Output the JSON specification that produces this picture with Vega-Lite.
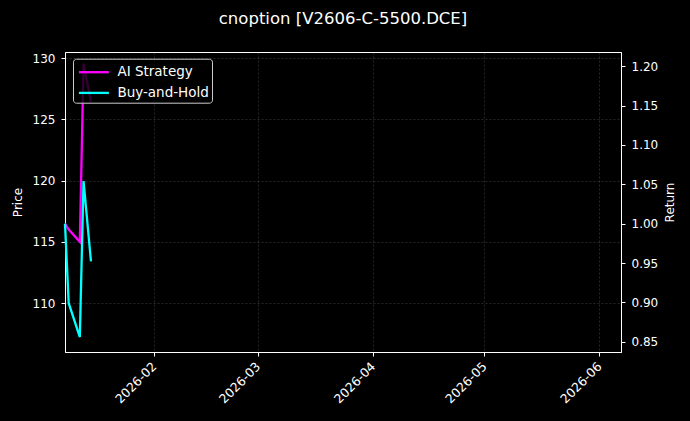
{
  "$schema": "https://vega.github.io/schema/vega-lite/v6.json",
  "width": 556,
  "height": 300,
  "autosize": "none",
  "padding": {"left": 65, "top": 52, "right": 69, "bottom": 69},
  "background": "black",
  "title": {
    "text": "cnoption [V2606-C-5500.DCE]",
    "fontSize": 16.5,
    "fontWeight": "normal",
    "color": "white",
    "baseline": "bottom",
    "offset": 8
  },
  "datasets": {
    "returns": [
      {"date": "2026-01-08", "series": "AI Strategy", "value": 1.0},
      {"date": "2026-01-09", "series": "AI Strategy", "value": 0.9925},
      {"date": "2026-01-12", "series": "AI Strategy", "value": 0.977},
      {"date": "2026-01-13", "series": "AI Strategy", "value": 1.203},
      {"date": "2026-01-15", "series": "AI Strategy", "value": 1.155},
      {"date": "2026-01-08", "series": "Buy-and-Hold", "value": 1.0},
      {"date": "2026-01-09", "series": "Buy-and-Hold", "value": 0.899},
      {"date": "2026-01-12", "series": "Buy-and-Hold", "value": 0.856},
      {"date": "2026-01-13", "series": "Buy-and-Hold", "value": 1.054},
      {"date": "2026-01-15", "series": "Buy-and-Hold", "value": 0.952}
    ],
    "price_limits": [
      {"date": "2026-01-08", "price": 106.0},
      {"date": "2026-01-08", "price": 130.5}
    ]
  },
  "layer": [
    {
      "data": {"name": "price_limits"},
      "mark": {"type": "point", "opacity": 0, "size": 1},
      "encoding": {
        "x": {
          "field": "date",
          "type": "temporal",
          "scale": {
            "type": "utc",
            "domain": [
              {"year": 2026, "month": 1, "date": 8, "utc": true},
              {"year": 2026, "month": 6, "date": 6, "hours": 21, "utc": true}
            ]
          },
          "axis": {
            "title": null,
            "grid": true,
            "format": "%Y-%m",
            "values": [
              {"year": 2026, "month": 2, "date": 1, "utc": true},
              {"year": 2026, "month": 3, "date": 1, "utc": true},
              {"year": 2026, "month": 4, "date": 1, "utc": true},
              {"year": 2026, "month": 5, "date": 1, "utc": true},
              {"year": 2026, "month": 6, "date": 1, "utc": true}
            ],
            "labelAngle": -45,
            "labelAlign": "right",
            "labelBaseline": "middle",
            "labelFontSize": 12.5,
            "labelPadding": 8,
            "labelDx": -24
          }
        },
        "y": {
          "field": "price",
          "type": "quantitative",
          "scale": {"domain": [106.0, 130.5], "nice": false, "zero": false},
          "axis": {"title": "Price", "orient": "left", "values": [110, 115, 120, 125, 130], "titlePadding": 8}
        }
      }
    },
    {
      "data": {"name": "returns"},
      "mark": {"type": "line", "strokeWidth": 2.3},
      "encoding": {
        "x": {"field": "date", "type": "temporal"},
        "y": {
          "field": "value",
          "type": "quantitative",
          "scale": {"domain": [0.837, 1.218], "nice": false, "zero": false},
          "axis": {
            "title": "Return",
            "orient": "right",
            "values": [0.85, 0.9, 0.95, 1.0, 1.05, 1.1, 1.15, 1.2],
            "format": ".2f",
            "titleAngle": 270,
            "titleBaseline": "top",
            "titlePadding": 7
          }
        },
        "color": {
          "field": "series",
          "type": "nominal",
          "scale": {"domain": ["AI Strategy", "Buy-and-Hold"], "range": ["#ff00ff", "#00ffff"]},
          "legend": {"title": null, "orient": "none", "legendX": 8, "legendY": 6.7}
        }
      }
    }
  ],
  "resolve": {"scale": {"y": "independent"}},
  "config": {
    "font": "DejaVu Sans",
    "view": {"stroke": "white", "strokeWidth": 1, "fill": "black"},
    "axis": {
      "labelColor": "white",
      "titleColor": "white",
      "tickColor": "white",
      "domainColor": "white",
      "labelFontSize": 12,
      "titleFontSize": 12,
      "titleFontWeight": "normal",
      "tickSize": 4,
      "labelPadding": 6,
      "gridColor": "#ffffff",
      "gridOpacity": 0.3,
      "gridDash": [2, 2],
      "gridWidth": 0.5
    },
    "legend": {
      "fillColor": "rgba(0,0,0,0.8)",
      "strokeColor": "#cccccc",
      "cornerRadius": 3,
      "padding": 3,
      "symbolType": "M-1.667,0H1.667",
      "symbolSize": 324,
      "symbolOffset": 7.4,
      "symbolStrokeWidth": 2.3,
      "labelFontSize": 13.5,
      "labelColor": "white",
      "labelOffset": 13,
      "rowPadding": 3.7
    }
  }
}
